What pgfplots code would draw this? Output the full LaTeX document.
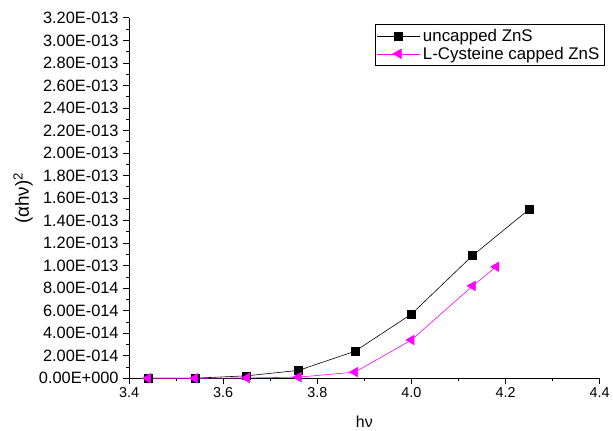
\documentclass[border=0pt]{standalone}
\usepackage{fontspec}
\setmainfont{Liberation Sans}
\usepackage{pgfplots}
\pgfplotsset{compat=1.18}
\definecolor{mag}{RGB}{255,0,255}

\begin{document}
\begin{tikzpicture}
\path (-130pt,-52pt) rectangle (483pt,381pt);
\begin{axis}[
  at={(0,0)}, anchor=origin,
  scale only axis, width=474pt, height=363pt,
  xmin=3.4, xmax=4.4, ymin=0, ymax=3.2e-13,
  axis lines*=left,
  axis line style={line width=1pt},
  tick align=outside,
  major tick length=6pt, minor tick length=3pt,
  every tick/.style={black, line width=0.8pt},
  xtick={3.4,3.6,...,4.41}, minor x tick num=1,
  ytick={0,2e-14,4e-14,6e-14,8e-14,1e-13,1.2e-13,1.4e-13,1.6e-13,1.8e-13,2e-13,2.2e-13,2.4e-13,2.6e-13,2.8e-13,3e-13,3.2e-13},
  yticklabels={0.00E+000,2.00E-014,4.00E-014,6.00E-014,8.00E-014,1.00E-013,1.20E-013,1.40E-013,1.60E-013,1.80E-013,2.00E-013,2.20E-013,2.40E-013,2.60E-013,2.80E-013,3.00E-013,3.20E-013},
  minor y tick num=1,
  scaled y ticks=false,
  xticklabel style={font=\fontsize{14.5}{16}\selectfont, /pgf/number format/.cd, fixed, fixed zerofill, precision=1, assume math mode=true},
  yticklabel style={font=\fontsize{16.5}{18}\selectfont, xshift=-1pt},
  xlabel={hν}, ylabel={(αhν)\textsuperscript{2}},
  xlabel style={font=\fontsize{16}{18}\selectfont, at={(axis description cs:0.5,-0.12)}, anchor=center},
  ylabel style={font=\fontsize{19}{22}\selectfont, at={(axis description cs:-0.225,0.5)}, anchor=center},
  legend style={at={(1.0105,0.983)}, anchor=north east, draw=black, line width=0.6pt,
    font=\fontsize{17}{19}\selectfont, inner xsep=2pt, inner ysep=3pt, row sep=0pt,
    cells={anchor=west}, nodes={inner xsep=3pt}},
  legend image code/.code={\draw[#1] (0cm,0cm) -- (1.5cm,0cm); \draw[#1, only marks] plot coordinates {(0.75cm,0cm)};},
  clip=false,
]
\addplot[black, line width=0.6pt, mark=square*, mark size=4pt, mark options={solid}] coordinates {
 (3.44,0) (3.54,0.0008e-13) (3.65,0.022e-13) (3.76,0.07e-13) (3.88,0.24e-13)
 (4.00,0.57e-13) (4.13,1.09e-13) (4.25,1.50e-13)};
\addlegendentry{uncapped ZnS}
\addplot[mag, line width=0.6pt, mark=triangle*, mark size=5.5pt, mark options={solid, rotate=90}] coordinates {
 (3.44,0) (3.54,0) (3.65,0.003e-13) (3.76,0.01e-13) (3.88,0.055e-13)
 (4.00,0.34e-13) (4.13,0.82e-13) (4.18,0.99e-13)};
\addlegendentry{L-Cysteine capped ZnS}
\end{axis}
\end{tikzpicture}
\end{document}
